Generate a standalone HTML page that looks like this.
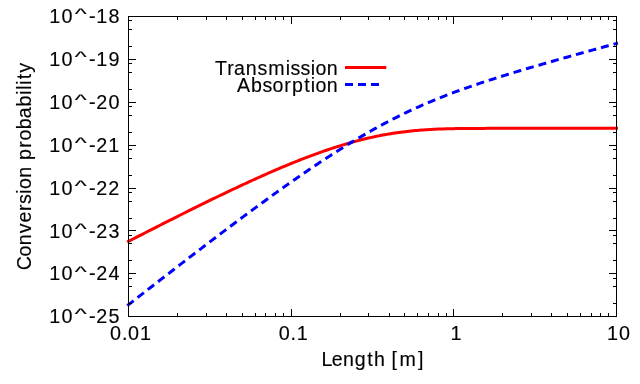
<!DOCTYPE html>
<html lang="en"><head><meta charset="utf-8"><title>Conversion probability vs length</title>
<style>
html,body{margin:0;padding:0;background:#fff;}
body{width:640px;height:384px;overflow:hidden;}
svg{display:block;}
text{font-family:"Liberation Sans",sans-serif;fill:#000;white-space:pre;}
</style></head><body>
<svg width="640" height="384" viewBox="0 0 640 384">
<rect width="640" height="384" fill="#fff"/>
<path d="M128.50 241.35L130.53 240.30L132.57 239.26L134.60 238.22L136.63 237.17L138.67 236.13L140.70 235.09L142.73 234.05L144.77 233.01L146.80 231.98L148.83 230.94L150.87 229.90L152.90 228.87L154.93 227.83L156.97 226.80L159.00 225.77L161.03 224.74L163.07 223.71L165.10 222.68L167.13 221.65L169.17 220.63L171.20 219.60L173.23 218.58L175.27 217.56L177.30 216.54L179.33 215.52L181.37 214.50L183.40 213.48L185.43 212.47L187.47 211.46L189.50 210.45L191.53 209.44L193.57 208.43L195.60 207.42L197.63 206.42L199.67 205.42L201.70 204.42L203.73 203.42L205.77 202.43L207.80 201.43L209.83 200.44L211.87 199.45L213.90 198.46L215.93 197.48L217.97 196.50L220.00 195.52L222.03 194.54L224.07 193.57L226.10 192.60L228.13 191.63L230.17 190.66L232.20 189.70L234.23 188.74L236.27 187.79L238.30 186.83L240.33 185.88L242.37 184.94L244.40 183.99L246.43 183.05L248.47 182.12L250.50 181.19L252.53 180.26L254.57 179.33L256.60 178.42L258.63 177.50L260.67 176.59L262.70 175.68L264.73 174.78L266.77 173.88L268.80 172.99L270.83 172.10L272.87 171.22L274.90 170.34L276.93 169.47L278.97 168.60L281.00 167.74L283.03 166.88L285.07 166.03L287.10 165.18L289.13 164.35L291.17 163.51L293.20 162.69L295.23 161.87L297.27 161.06L299.30 160.25L301.33 159.45L303.37 158.66L305.40 157.87L307.43 157.10L309.47 156.33L311.50 155.57L313.53 154.81L315.57 154.07L317.60 153.33L319.63 152.60L321.67 151.88L323.70 151.17L325.73 150.46L327.77 149.77L329.80 149.09L331.83 148.41L333.87 147.75L335.90 147.09L337.93 146.45L339.97 145.81L342.00 145.19L344.03 144.57L346.07 143.97L348.10 143.38L350.13 142.80L352.17 142.23L354.20 141.67L356.23 141.12L358.27 140.58L360.30 140.06L362.33 139.54L364.37 139.04L366.40 138.56L368.43 138.08L370.47 137.62L372.50 137.16L374.53 136.72L376.57 136.30L378.60 135.88L380.63 135.48L382.67 135.09L384.70 134.72L386.73 134.36L388.77 134.00L390.80 133.67L392.83 133.34L394.87 133.03L396.90 132.73L398.93 132.44L400.97 132.17L403.00 131.90L405.03 131.65L407.07 131.41L409.10 131.19L411.13 130.97L413.17 130.77L415.20 130.57L417.23 130.39L419.27 130.22L421.30 130.06L423.33 129.91L425.37 129.77L427.40 129.64L429.43 129.51L431.47 129.40L433.50 129.30L435.53 129.20L437.57 129.11L439.60 129.03L441.63 128.95L443.67 128.88L445.70 128.82L447.73 128.77L449.77 128.71L451.80 128.67L453.83 128.63L455.87 128.59L457.90 128.56L459.93 128.53L461.97 128.51L464.00 128.48L466.03 128.46L468.07 128.45L470.10 128.43L472.13 128.42L474.17 128.41L476.20 128.40L478.23 128.39L480.27 128.39L482.30 128.38L484.33 128.38L486.37 128.37L488.40 128.37L490.43 128.37L492.47 128.36L494.50 128.36L496.53 128.36L498.57 128.36L500.60 128.36L502.63 128.36L504.67 128.36L506.70 128.36L508.73 128.36L510.77 128.36L512.80 128.36L514.83 128.36L516.87 128.36L518.90 128.36L520.93 128.36L522.97 128.36L525.00 128.36L527.03 128.36L529.07 128.36L531.10 128.36L533.13 128.36L535.17 128.36L537.20 128.36L539.23 128.36L541.27 128.36L543.30 128.36L545.33 128.36L547.37 128.36L549.40 128.36L551.43 128.36L553.47 128.36L555.50 128.36L557.53 128.36L559.57 128.36L561.60 128.36L563.63 128.36L565.67 128.36L567.70 128.36L569.73 128.36L571.77 128.36L573.80 128.36L575.83 128.36L577.87 128.36L579.90 128.36L581.93 128.36L583.97 128.36L586.00 128.36L588.03 128.36L590.07 128.36L592.10 128.36L594.13 128.36L596.17 128.36L598.20 128.36L600.23 128.36L602.27 128.36L604.30 128.36L606.33 128.36L608.37 128.36L610.40 128.36L612.43 128.36L614.47 128.36L616.50 128.36" fill="none" stroke="#ff0000" stroke-width="3" stroke-linecap="square" stroke-linejoin="round"/>
<path d="M128.50 304.71L130.53 303.12L132.57 301.53L134.60 299.95L136.63 298.36L138.67 296.78L140.70 295.19L142.73 293.61L144.77 292.03L146.80 290.44L148.83 288.86L150.87 287.28L152.90 285.70L154.93 284.12L156.97 282.54L159.00 280.97L161.03 279.39L163.07 277.81L165.10 276.24L167.13 274.67L169.17 273.09L171.20 271.52L173.23 269.95L175.27 268.38L177.30 266.81L179.33 265.24L181.37 263.68L183.40 262.11L185.43 260.55L187.47 258.98L189.50 257.42L191.53 255.86L193.57 254.30L195.60 252.74L197.63 251.19L199.67 249.63L201.70 248.08L203.73 246.53L205.77 244.98L207.80 243.43L209.83 241.88L211.87 240.34L213.90 238.79L215.93 237.25L217.97 235.71L220.00 234.17L222.03 232.63L224.07 231.10L226.10 229.57L228.13 228.04L230.17 226.51L232.20 224.98L234.23 223.46L236.27 221.94L238.30 220.42L240.33 218.91L242.37 217.39L244.40 215.88L246.43 214.37L248.47 212.87L250.50 211.36L252.53 209.86L254.57 208.37L256.60 206.87L258.63 205.38L260.67 203.89L262.70 202.41L264.73 200.93L266.77 199.45L268.80 197.98L270.83 196.51L272.87 195.04L274.90 193.58L276.93 192.12L278.97 190.66L281.00 189.21L283.03 187.77L285.07 186.32L287.10 184.89L289.13 183.45L291.17 182.02L293.20 180.60L295.23 179.18L297.27 177.77L299.30 176.36L301.33 174.95L303.37 173.55L305.40 172.16L307.43 170.77L309.47 169.39L311.50 168.01L313.53 166.64L315.57 165.28L317.60 163.92L319.63 162.57L321.67 161.22L323.70 159.88L325.73 158.55L327.77 157.23L329.80 155.91L331.83 154.60L333.87 153.29L335.90 151.99L337.93 150.70L339.97 149.42L342.00 148.15L344.03 146.88L346.07 145.62L348.10 144.37L350.13 143.13L352.17 141.90L354.20 140.67L356.23 139.45L358.27 138.25L360.30 137.05L362.33 135.86L364.37 134.68L366.40 133.51L368.43 132.34L370.47 131.19L372.50 130.05L374.53 128.91L376.57 127.79L378.60 126.68L380.63 125.57L382.67 124.48L384.70 123.39L386.73 122.32L388.77 121.25L390.80 120.20L392.83 119.16L394.87 118.12L396.90 117.10L398.93 116.09L400.97 115.09L403.00 114.09L405.03 113.11L407.07 112.14L409.10 111.18L411.13 110.23L413.17 109.29L415.20 108.36L417.23 107.44L419.27 106.53L421.30 105.62L423.33 104.73L425.37 103.85L427.40 102.98L429.43 102.12L431.47 101.27L433.50 100.42L435.53 99.59L437.57 98.76L439.60 97.95L441.63 97.14L443.67 96.34L445.70 95.55L447.73 94.77L449.77 93.99L451.80 93.22L453.83 92.46L455.87 91.71L457.90 90.97L459.93 90.23L461.97 89.50L464.00 88.77L466.03 88.05L468.07 87.34L470.10 86.63L472.13 85.93L474.17 85.24L476.20 84.55L478.23 83.87L480.27 83.19L482.30 82.51L484.33 81.84L486.37 81.18L488.40 80.52L490.43 79.86L492.47 79.21L494.50 78.56L496.53 77.92L498.57 77.28L500.60 76.64L502.63 76.01L504.67 75.38L506.70 74.75L508.73 74.12L510.77 73.50L512.80 72.88L514.83 72.27L516.87 71.66L518.90 71.04L520.93 70.44L522.97 69.83L525.00 69.23L527.03 68.62L529.07 68.02L531.10 67.43L533.13 66.83L535.17 66.24L537.20 65.65L539.23 65.06L541.27 64.47L543.30 63.88L545.33 63.30L547.37 62.71L549.40 62.13L551.43 61.55L553.47 60.97L555.50 60.39L557.53 59.81L559.57 59.24L561.60 58.66L563.63 58.09L565.67 57.52L567.70 56.95L569.73 56.38L571.77 55.81L573.80 55.24L575.83 54.67L577.87 54.11L579.90 53.54L581.93 52.98L583.97 52.42L586.00 51.85L588.03 51.29L590.07 50.73L592.10 50.17L594.13 49.61L596.17 49.05L598.20 48.49L600.23 47.94L602.27 47.38L604.30 46.82L606.33 46.27L608.37 45.71L610.40 45.16L612.43 44.61L614.47 44.05L616.50 43.50" fill="none" stroke="#0000ff" stroke-width="3" stroke-linecap="square" stroke-dasharray="5 7.985" stroke-linejoin="round"/>
<path d="M346.5 67.5H384.8" stroke="#ff0000" stroke-width="3" stroke-linecap="square" fill="none"/>
<path d="M346.5 84.5H384.8" stroke="#0000ff" stroke-width="3" stroke-linecap="square" stroke-dasharray="5 7.985" fill="none"/>
<path d="M128.5 303.5h3.5M616.5 303.5h-3.5M128.5 286.5h3.5M616.5 286.5h-3.5M128.5 278.5h3.5M616.5 278.5h-3.5M128.5 273.5h7.5M616.5 273.5h-7.5M128.5 260.5h3.5M616.5 260.5h-3.5M128.5 243.5h3.5M616.5 243.5h-3.5M128.5 235.5h3.5M616.5 235.5h-3.5M128.5 230.5h7.5M616.5 230.5h-7.5M128.5 218.5h3.5M616.5 218.5h-3.5M128.5 201.5h3.5M616.5 201.5h-3.5M128.5 192.5h3.5M616.5 192.5h-3.5M128.5 188.5h7.5M616.5 188.5h-7.5M128.5 175.5h3.5M616.5 175.5h-3.5M128.5 158.5h3.5M616.5 158.5h-3.5M128.5 149.5h3.5M616.5 149.5h-3.5M128.5 145.5h7.5M616.5 145.5h-7.5M128.5 132.5h3.5M616.5 132.5h-3.5M128.5 115.5h3.5M616.5 115.5h-3.5M128.5 106.5h3.5M616.5 106.5h-3.5M128.5 102.5h7.5M616.5 102.5h-7.5M128.5 89.5h3.5M616.5 89.5h-3.5M128.5 72.5h3.5M616.5 72.5h-3.5M128.5 63.5h3.5M616.5 63.5h-3.5M128.5 59.5h7.5M616.5 59.5h-7.5M128.5 46.5h3.5M616.5 46.5h-3.5M128.5 29.5h3.5M616.5 29.5h-3.5M128.5 20.5h3.5M616.5 20.5h-3.5M177.5 316.5v-3.5M177.5 16.5v3.5M206.5 316.5v-3.5M206.5 16.5v3.5M226.5 316.5v-3.5M226.5 16.5v3.5M242.5 316.5v-3.5M242.5 16.5v3.5M255.5 316.5v-3.5M255.5 16.5v3.5M265.5 316.5v-3.5M265.5 16.5v3.5M275.5 316.5v-3.5M275.5 16.5v3.5M283.5 316.5v-3.5M283.5 16.5v3.5M291.5 316.5v-7.5M291.5 16.5v7.5M340.5 316.5v-3.5M340.5 16.5v3.5M368.5 316.5v-3.5M368.5 16.5v3.5M389.5 316.5v-3.5M389.5 16.5v3.5M404.5 316.5v-3.5M404.5 16.5v3.5M417.5 316.5v-3.5M417.5 16.5v3.5M428.5 316.5v-3.5M428.5 16.5v3.5M438.5 316.5v-3.5M438.5 16.5v3.5M446.5 316.5v-3.5M446.5 16.5v3.5M453.5 316.5v-7.5M453.5 16.5v7.5M502.5 316.5v-3.5M502.5 16.5v3.5M531.5 316.5v-3.5M531.5 16.5v3.5M551.5 316.5v-3.5M551.5 16.5v3.5M567.5 316.5v-3.5M567.5 16.5v3.5M580.5 316.5v-3.5M580.5 16.5v3.5M591.5 316.5v-3.5M591.5 16.5v3.5M600.5 316.5v-3.5M600.5 16.5v3.5M608.5 316.5v-3.5M608.5 16.5v3.5" stroke="#000" stroke-width="1" fill="none"/>
<rect x="128.5" y="16.5" width="488.0" height="300.0" fill="none" stroke="#000" stroke-width="1"/>
<g opacity="0.999" stroke="#000" stroke-width="0.15">
<g font-size="19.80"><text y="23.3" x="49.3 61.4">10</text><text transform="matrix(1.285 0 0 0.714 74.85 19.41)">^</text><text y="23.3" x="89.1 96.3 108.4">-18</text></g>
<g font-size="19.80"><text y="66.2" x="49.3 61.4">10</text><text transform="matrix(1.285 0 0 0.714 74.85 62.27)">^</text><text y="66.2" x="89.1 96.3 108.4">-19</text></g>
<g font-size="19.80"><text y="109.0" x="49.3 61.4">10</text><text transform="matrix(1.285 0 0 0.714 74.85 105.12)">^</text><text y="109.0" x="89.1 96.2 108.4">-20</text></g>
<g font-size="19.80"><text y="151.9" x="49.3 61.4">10</text><text transform="matrix(1.285 0 0 0.714 74.85 147.98)">^</text><text y="151.9" x="89.1 96.2 108.3">-21</text></g>
<g font-size="19.80"><text y="194.7" x="49.3 61.4">10</text><text transform="matrix(1.285 0 0 0.714 74.85 190.84)">^</text><text y="194.7" x="89.1 96.2 108.2">-22</text></g>
<g font-size="19.80"><text y="237.6" x="49.3 61.4">10</text><text transform="matrix(1.285 0 0 0.714 74.85 233.70)">^</text><text y="237.6" x="89.1 96.2 108.5">-23</text></g>
<g font-size="19.80"><text y="280.4" x="49.3 61.4">10</text><text transform="matrix(1.285 0 0 0.714 74.85 276.55)">^</text><text y="280.4" x="89.1 96.2 108.4">-24</text></g>
<g font-size="19.80"><text y="323.3" x="49.3 61.4">10</text><text transform="matrix(1.285 0 0 0.714 74.85 319.41)">^</text><text y="323.3" x="89.1 96.2 108.4">-25</text></g>
<text y="339.8" font-size="19.80" x="110.1 121.9 128.1 140.0">0.01</text>
<text y="339.8" font-size="19.80" x="278.8 290.6 296.7">0.1</text>
<text y="339.8" font-size="19.80" x="450.4">1</text>
<text y="339.8" font-size="19.80" x="607.0 619.1">10</text>
<text y="366.0" font-size="19.60" x="321.5 331.7 342.9 354.8 367.3 373.9 385.4 391.6 399.4 418.0">Length [m]</text>
<text transform="translate(30.6 269.5) rotate(-90)" y="0.0" font-size="19.60" x="-0.7 13.1 24.3 36.3 46.9 58.4 65.5 75.7 80.5 91.7 103.1 109.6 121.8 129.1 140.3 151.2 163.1 174.8 179.8 184.8 190.2 196.8">Conversion probability</text>
<text y="74.6" font-size="19.60" x="215.0 227.2 233.9 245.8 257.4 268.3 285.7 290.4 300.4 310.7 315.6 326.8">Transmission</text>
<text y="91.8" font-size="19.60" x="237.1 250.9 262.4 272.6 284.2 291.9 304.2 310.7 315.6 326.8">Absorption</text>
</g>
</svg>
</body></html>
